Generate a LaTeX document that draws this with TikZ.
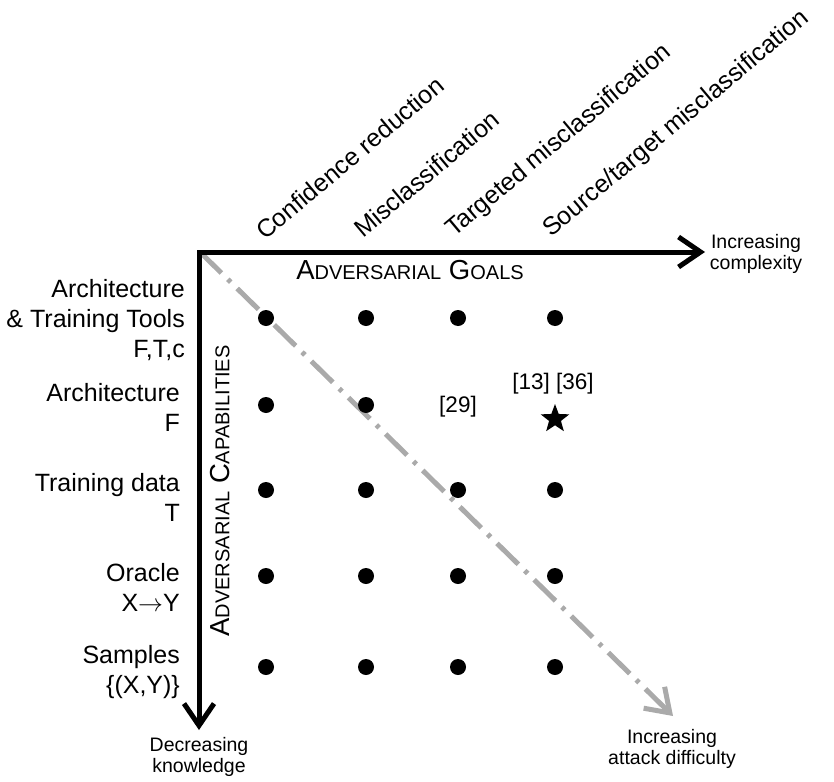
\documentclass[tikz,border=0pt]{standalone}
\usepackage{fontspec}
\setmainfont{Liberation Sans}
\usetikzlibrary{arrows.meta,shapes.geometric}
\begin{document}
\begin{tikzpicture}[x=1pt,y=-1pt,
  lbl/.style={font=\fontsize{25}{30}\selectfont, inner sep=0pt},
  small/.style={font=\fontsize{19.5}{21}\selectfont, align=center, inner sep=0pt},
  ref/.style={font=\fontsize{22.5}{26}\selectfont, inner sep=0pt},
  coltxt/.style={lbl, rotate=40, anchor=base west},
  rowtxt/.style={lbl, align=right, anchor=east},
  sctxt/.style={inner sep=0pt, font=\fontsize{27.5}{30}\selectfont},
  dotn/.style={circle, fill=black, inner sep=0pt, minimum size=16pt},
  axis/.style={line width=5pt, -{Straight Barb[length=22pt,width=30pt,line width=5pt]}},
  diag/.style={line width=5pt, draw={rgb,255:red,170;green,170;blue,170},
    dash pattern=on 30pt off 9pt on 4pt off 9pt,
    -{Straight Barb[length=22pt,width=30pt,line width=5pt]}}]
\useasboundingbox (0,0) rectangle (834,781);
\newcommand{\scl}[1]{{\fontsize{20}{22}\selectfont #1}}
\coordinate (o) at (200,252);
\coordinate (hx) at (705,252);
\coordinate (vy) at (199,730);
\coordinate (dg) at (673,716);
\draw[diag] (o) -- (dg);
\draw[axis] (198,252) -- (hx);
\draw[axis] (199,250) -- (vy);
% column labels
\node[coltxt] (c1) at (265,241) {Confidence reduction};
\node[coltxt] (c2) at (363,239) {Misclassification};
\node[coltxt] (c3) at (454,238) {Targeted misclassification};
\node[coltxt] (c4) at (551,238) {Source/target misclassification};
% axis labels
\node[small] (ic) at (756,254) {Increasing\\complexity};
\node[small] (dk) at (199,757) {Decreasing\\knowledge};
\node[small] (ad) at (672,749) {Increasing\\attack difficulty};
\node[sctxt] (goals) at (410,270) {A\scl{DVERSARIAL} G\scl{OALS}};
\node[sctxt, rotate=90] (caps) at (220,491) {A\scl{DVERSARIAL} C\scl{APABILITIES}};
% row labels
\node[rowtxt] (r1) at (185,320) {Architecture\\\& Training Tools\\F,T,c};
\node[rowtxt] (r2) at (180,407) {Architecture\\F};
\node[rowtxt] (r3) at (180,497) {Training data\\T};
\node[rowtxt] (r4) at (180,587) {Oracle\\X\(\rightarrow\)Y};
\node[rowtxt] (r5) at (180,672) {Samples\\\{(X,Y)\}};
% dots
\foreach \y [count=\j] in {318,405,490,576,667}{
  \foreach \x [count=\i] in {266,366,458,555}{
    \ifnum\j=2 \ifnum\i>2 \else \node[dotn] (d\i\j) at (\x,\y) {}; \fi
    \else \node[dotn] (d\i\j) at (\x,\y) {}; \fi
  }
}
\node[ref] (r29) at (458,407) {[29]};
\node[ref] (r1336) at (553,384) {[13] [36]};
\node[star, star points=5, star point ratio=2.4, fill=black, inner sep=0pt, minimum size=30pt] (st) at (555,419) {};
\end{tikzpicture}
\end{document}
